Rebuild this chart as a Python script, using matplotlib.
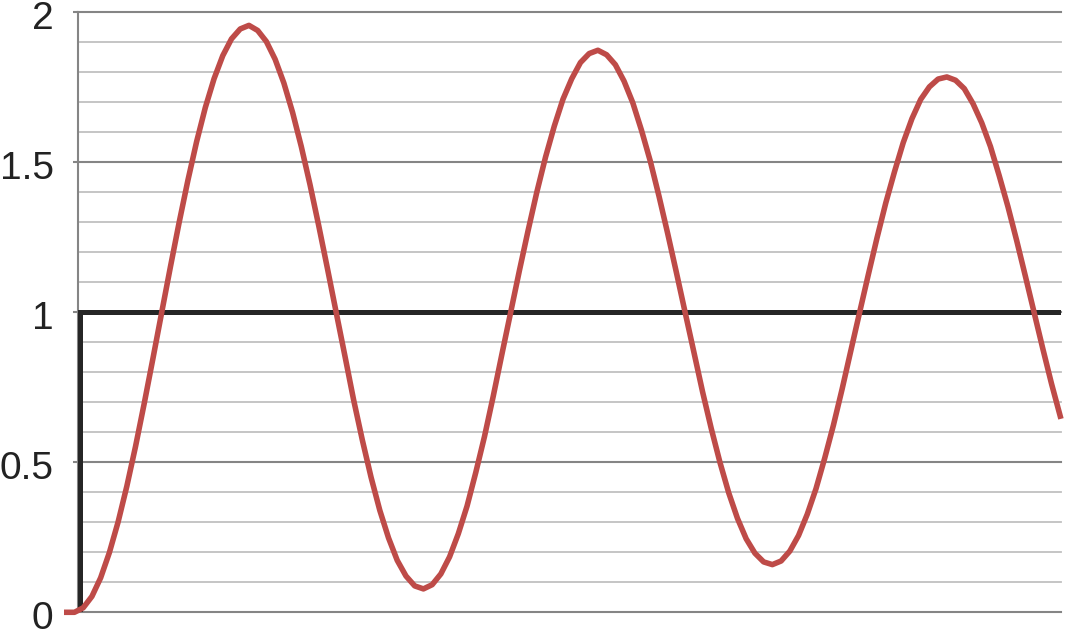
import matplotlib
matplotlib.use("Agg")
import matplotlib.pyplot as plt
import matplotlib.transforms as mtransforms
import numpy as np

# step response (time in arbitrary units, 10 units per cycle)
t = [-0.3,
     0.0, 0.25, 0.5, 0.75, 1.0, 1.25, 1.5, 1.75, 2.0, 2.25,
     2.5, 2.75, 3.0, 3.25, 3.5, 3.75, 4.0, 4.25, 4.5, 4.75,
     5.0, 5.25, 5.5, 5.75, 6.0, 6.25, 6.5, 6.75, 7.0, 7.25,
     7.5, 7.75, 8.0, 8.25, 8.5, 8.75, 9.0, 9.25, 9.5, 9.75,
     10.0, 10.25, 10.5, 10.75, 11.0, 11.25, 11.5, 11.75, 12.0, 12.25,
     12.5, 12.75, 13.0, 13.25, 13.5, 13.75, 14.0, 14.25, 14.5, 14.75,
     15.0, 15.25, 15.5, 15.75, 16.0, 16.25, 16.5, 16.75, 17.0, 17.25,
     17.5, 17.75, 18.0, 18.25, 18.5, 18.75, 19.0, 19.25, 19.5, 19.75,
     20.0, 20.25, 20.5, 20.75, 21.0, 21.25, 21.5, 21.75, 22.0, 22.25,
     22.5, 22.75, 23.0, 23.25, 23.5, 23.75, 24.0, 24.25, 24.5, 24.75,
     25.0, 25.25, 25.5, 25.75, 26.0, 26.25, 26.5, 26.75, 27.0, 27.25,
     27.5, 27.75, 28.0, 28.27]
response = [0.0,
            0.000, 0.015, 0.053, 0.115, 0.199, 0.301, 0.420, 0.553, 0.697, 0.847,
            1.000, 1.152, 1.300, 1.440, 1.569, 1.683, 1.779, 1.856, 1.912, 1.945,
            1.957, 1.940, 1.903, 1.844, 1.765, 1.667, 1.553, 1.426, 1.289, 1.146,
            1.000, 0.855, 0.708, 0.574, 0.450, 0.340, 0.248, 0.173, 0.121, 0.088,
            0.078, 0.092, 0.128, 0.185, 0.262, 0.354, 0.466, 0.586, 0.720, 0.861,
            1.000, 1.139, 1.273, 1.401, 1.518, 1.621, 1.711, 1.779, 1.833, 1.863,
            1.874, 1.859, 1.826, 1.771, 1.699, 1.607, 1.505, 1.388, 1.263, 1.133,
            1.000, 0.868, 0.735, 0.612, 0.499, 0.398, 0.313, 0.245, 0.197, 0.168,
            0.159, 0.171, 0.204, 0.256, 0.327, 0.412, 0.514, 0.624, 0.745, 0.873,
            1.000, 1.126, 1.249, 1.365, 1.469, 1.566, 1.646, 1.710, 1.752, 1.778,
            1.785, 1.774, 1.746, 1.696, 1.632, 1.553, 1.456, 1.353, 1.240, 1.121,
            1.000, 0.879, 0.762, 0.645]
setpoint = 1.0
y_ticks = [0, 0.5, 1, 1.5, 2]
y_labels = ["0", "0.5", "1", "1.5", "2"]

plt.rcParams['font.family'] = ['Liberation Sans', 'DejaVu Sans']

fig = plt.figure(figsize=(10.65, 6.3), dpi=100)
ax = fig.add_axes([0.0732, 0.0281, 0.9230, 0.9521])

ax.set_xlim(0.1, 28.27)
ax.set_ylim(0, 2)

# grid: light lines every 0.1, darker every 0.5
for g in np.arange(0, 2.01, 0.1):
    if round(g * 10) % 5 == 0:
        ax.axhline(g, color='#858585', linewidth=1.5, clip_on=False, zorder=1)
    else:
        ax.axhline(g, color='#c0c0c0', linewidth=1.3, clip_on=False, zorder=1)

ax.set_yticks(y_ticks)
ax.set_yticklabels(y_labels)
ax.tick_params(axis='y', length=3.6, width=1.5, color='#858585',
               pad=14, labelsize=28, labelcolor='#222222')
ax.set_xticks([])

# labels sit a few pixels below their gridline in the original
shift = mtransforms.ScaledTranslation(0, -3 / 100, fig.dpi_scale_trans)
for lab in ax.get_yticklabels():
    lab.set_transform(lab.get_transform() + shift)

for side in ['top', 'right', 'bottom']:
    ax.spines[side].set_visible(False)
ax.spines['left'].set_color('#858585')
ax.spines['left'].set_linewidth(1.5)

# setpoint lines
ax.axhline(setpoint, color='#262626', linewidth=3.6, zorder=3)
ax.plot([0.17, 0.17], [0, setpoint], color='#262626', linewidth=3.6,
        solid_capstyle='butt', zorder=3)

ax.plot(t, response, color='#be4b48', linewidth=4.0, solid_joinstyle='round',
        solid_capstyle='butt', clip_on=False, zorder=4)

fig.savefig('out.png', dpi=100)
